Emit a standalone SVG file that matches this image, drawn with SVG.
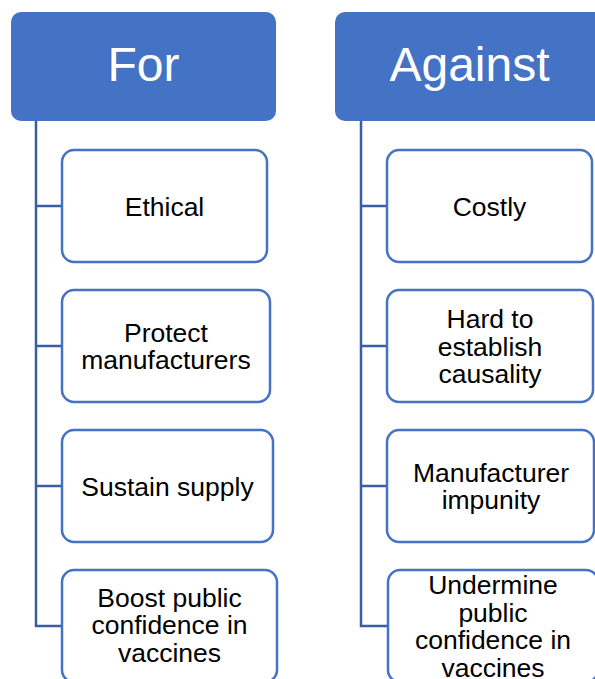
<svg xmlns="http://www.w3.org/2000/svg" width="595" height="679" viewBox="0 0 595 679">
  <style>
    .head { fill: #4472C4; }
    .head-text { font-family: "Liberation Sans", Arial, sans-serif; font-size: 48px; fill: #FFFFFF; text-anchor: middle; }
    .item { fill: #FFFFFF; stroke: #4472C4; stroke-width: 2.5; }
    .item-text { font-family: "Liberation Sans", Arial, sans-serif; font-size: 26.5px; fill: #000000; text-anchor: middle; }
    .link { fill: none; stroke: #3A5EA6; stroke-width: 2.5; }
  </style>
  <rect width="595" height="679" fill="#FFFFFF"/>

  <!-- tree lines -->
  <g id="connectors">
    <path class="link" d="M36 121 V626 H62 M36 206 H62 M36 346 H62 M36 486 H62"/>
    <path class="link" d="M361 121 V626 H388 M361 206 H388 M361 346 H388 M361 486 H388"/>
  </g>

  <!-- For column -->
  <g id="for-header">
    <rect class="head" x="11" y="12" width="265" height="109" rx="10"/>
    <text class="head-text" x="143.5" y="81">For</text>
  </g>
  <g id="for-ethical">
    <rect class="item" x="62" y="150" width="205" height="112" rx="12"/>
    <text class="item-text" x="164.5" y="215.5">Ethical</text>
  </g>
  <g id="for-protect">
    <rect class="item" x="62" y="290" width="208" height="112" rx="12"/>
    <text class="item-text" x="166" y="341.5">Protect</text>
    <text class="item-text" x="166" y="369">manufacturers</text>
  </g>
  <g id="for-sustain">
    <rect class="item" x="62" y="430" width="211" height="112" rx="12"/>
    <text class="item-text" x="167.5" y="495.5">Sustain supply</text>
  </g>
  <g id="for-boost">
    <rect class="item" x="62" y="570" width="215" height="112" rx="12"/>
    <text class="item-text" x="169.5" y="606.5">Boost public</text>
    <text class="item-text" x="169.5" y="634">confidence in</text>
    <text class="item-text" x="169.5" y="661.5">vaccines</text>
  </g>

  <!-- Against column -->
  <g id="against-header">
    <rect class="head" x="335" y="12" width="270" height="109" rx="10"/>
    <text class="head-text" x="469.5" y="81">Against</text>
  </g>
  <g id="against-costly">
    <rect class="item" x="387" y="150" width="205" height="112" rx="12"/>
    <text class="item-text" x="489.5" y="215.5">Costly</text>
  </g>
  <g id="against-causality">
    <rect class="item" x="387" y="290" width="206" height="112" rx="12"/>
    <text class="item-text" x="490" y="328">Hard to</text>
    <text class="item-text" x="490" y="355.5">establish</text>
    <text class="item-text" x="490" y="383">causality</text>
  </g>
  <g id="against-impunity">
    <rect class="item" x="387" y="430" width="207" height="112" rx="12"/>
    <text class="item-text" x="491" y="481.5">Manufacturer</text>
    <text class="item-text" x="491" y="509">impunity</text>
  </g>
  <g id="against-undermine">
    <rect class="item" x="388" y="570" width="210" height="112" rx="12"/>
    <text class="item-text" x="493" y="594">Undermine</text>
    <text class="item-text" x="493" y="621.5">public</text>
    <text class="item-text" x="493" y="649">confidence in</text>
    <text class="item-text" x="493" y="676.5">vaccines</text>
  </g>
</svg>
